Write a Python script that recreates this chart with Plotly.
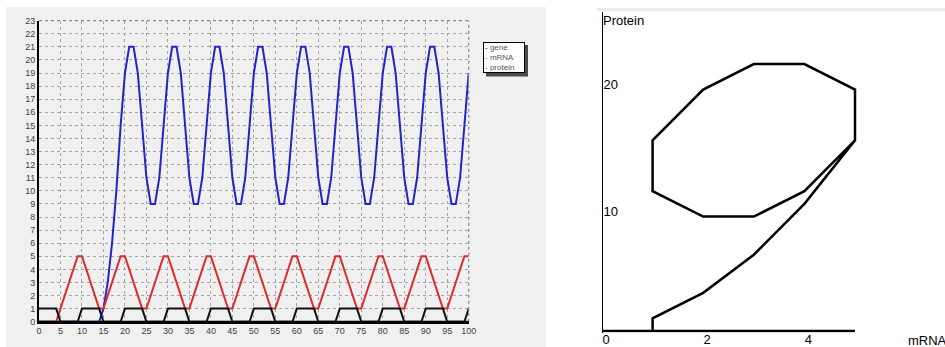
import plotly.graph_objects as go

# ---------------- data ----------------
time = list(range(0, 101))

gene = [
    1, 1, 1, 1, 1, 0, 0, 0, 0, 0,
    1, 1, 1, 1, 1, 0, 0, 0, 0, 0,
    1, 1, 1, 1, 1, 0, 0, 0, 0, 0,
    1, 1, 1, 1, 1, 0, 0, 0, 0, 0,
    1, 1, 1, 1, 1, 0, 0, 0, 0, 0,
    1, 1, 1, 1, 1, 0, 0, 0, 0, 0,
    1, 1, 1, 1, 1, 0, 0, 0, 0, 0,
    1, 1, 1, 1, 1, 0, 0, 0, 0, 0,
    1, 1, 1, 1, 1, 0, 0, 0, 0, 0,
    1, 1, 1, 1, 1, 0, 0, 0, 0, 0,
    1,
]

mrna = [
    0, 0, 0, 0, 0, 1, 2, 3, 4, 5,
    5, 4, 3, 2, 1, 1, 2, 3, 4, 5,
    5, 4, 3, 2, 1, 1, 2, 3, 4, 5,
    5, 4, 3, 2, 1, 1, 2, 3, 4, 5,
    5, 4, 3, 2, 1, 1, 2, 3, 4, 5,
    5, 4, 3, 2, 1, 1, 2, 3, 4, 5,
    5, 4, 3, 2, 1, 1, 2, 3, 4, 5,
    5, 4, 3, 2, 1, 1, 2, 3, 4, 5,
    5, 4, 3, 2, 1, 1, 2, 3, 4, 5,
    5, 4, 3, 2, 1, 1, 2, 3, 4, 5,
    5,
]

protein = [
    0, 0, 0, 0, 0, 0, 0, 0, 0, 0,
    0, 0, 0, 0, 0, 1, 3, 6, 10, 15,
    19, 21, 21, 19, 15, 11, 9, 9, 11, 15,
    19, 21, 21, 19, 15, 11, 9, 9, 11, 15,
    19, 21, 21, 19, 15, 11, 9, 9, 11, 15,
    19, 21, 21, 19, 15, 11, 9, 9, 11, 15,
    19, 21, 21, 19, 15, 11, 9, 9, 11, 15,
    19, 21, 21, 19, 15, 11, 9, 9, 11, 15,
    19, 21, 21, 19, 15, 11, 9, 9, 11, 15,
    19, 21, 21, 19, 15, 11, 9, 9, 11, 15,
    19,
]

x_ticks_left = list(range(0, 101, 5))
y_ticks_left = list(range(0, 24))
x_ticks_right = [0, 2, 4]
y_ticks_right = [10, 20]
series_names = ["gene", "mRNA", "protein"]

# ---------------- styling ----------------
W, H = 945, 347
BLACK = "#111111"
RED = "#dd2a2a"
BLUE = "#2323cc"
PANEL = "#f0f0f0"
FONT = "Liberation Sans, Arial, sans-serif"


def px(x):
    return x / W


def py(y):
    return (H - y) / H


fig = go.Figure()

fig.add_trace(go.Scatter(x=time, y=protein, mode="lines", name=series_names[2],
                         line=dict(color=BLUE, width=2), xaxis="x", yaxis="y"))
fig.add_trace(go.Scatter(x=time, y=mrna, mode="lines", name=series_names[1],
                         line=dict(color=RED, width=2), xaxis="x", yaxis="y"))
fig.add_trace(go.Scatter(x=time, y=gene, mode="lines", name=series_names[0],
                         line=dict(color=BLACK, width=2), xaxis="x", yaxis="y"))

# phase plot
fig.add_trace(go.Scatter(x=mrna, y=protein, mode="lines", name="phase",
                         line=dict(color="black", width=2.5), xaxis="x2", yaxis="y2"))

shapes = [
    # gray panel behind the time-series chart
    dict(type="rect", xref="paper", yref="paper", x0=px(6), x1=px(546), y0=0, y1=py(7),
         fillcolor=PANEL, line=dict(width=0), layer="below"),
    # faint strip on top of the phase panel
    dict(type="line", xref="paper", yref="paper", x0=px(597), x1=1, y0=py(9.5), y1=py(9.5),
         line=dict(color="#ebebeb", width=3), layer="below"),
    # dotted top / right frame of the time-series plot
    dict(type="line", xref="x domain", yref="y domain", x0=0, x1=1, y0=1, y1=1,
         line=dict(color="#888888", width=1.2, dash="dot")),
    dict(type="line", xref="x domain", yref="y domain", x0=1, x1=1, y0=0, y1=1,
         line=dict(color="#888888", width=1.2, dash="dot")),
    # solid baseline of the time-series plot (drawn over the traces)
    dict(type="line", xref="x domain", yref="y domain", x0=0, x1=1, y0=0, y1=0,
         line=dict(color="black", width=2)),
    # legend shadow
    dict(type="rect", xref="paper", yref="paper", x0=px(486), x1=px(528), y0=py(76.5), y1=py(45),
         fillcolor="#4a4a4a", line=dict(width=0)),
]

legend_text = (
    f"<span style='color:{BLACK}'>-</span> {series_names[0]}<br>"
    f"<span style='color:{RED}'>-</span> {series_names[1]}<br>"
    f"<span style='color:{BLUE}'>-</span> {series_names[2]}"
)

annotations = [
    dict(xref="paper", yref="paper", x=px(483), y=py(42), xanchor="left", yanchor="top",
         text=legend_text, showarrow=False, align="left", width=38, height=27,
         bgcolor="white", bordercolor="black", borderwidth=1, borderpad=1,
         font=dict(family=FONT, size=8, color="#555555")),
    dict(xref="paper", yref="paper", x=px(601), y=py(21), xanchor="left", yanchor="middle",
         text="Protein", showarrow=False, font=dict(family=FONT, size=13, color="black")),
    dict(xref="paper", yref="paper", x=px(906), y=py(340), xanchor="left", yanchor="middle",
         text="mRNA", showarrow=False, font=dict(family=FONT, size=13, color="black")),
]

fig.update_layout(
    width=W, height=H,
    margin=dict(l=0, r=0, t=0, b=0, autoexpand=False),
    paper_bgcolor="white",
    plot_bgcolor="rgba(0,0,0,0)",
    showlegend=False,
    font=dict(family=FONT),
    shapes=shapes,
    annotations=annotations,
    xaxis=dict(
        domain=[px(39), px(468.7)], range=[0, 100], anchor="y", automargin=False,
        tickvals=x_ticks_left, ticks="", showgrid=True, gridcolor="#a4a4a4",
        griddash="dot", gridwidth=1, showline=True, linecolor="black", linewidth=1.5,
        zeroline=False, tickfont=dict(size=9, color="#404040", family=FONT),
    ),
    yaxis=dict(
        domain=[py(321.7), py(20.7)], range=[0, 23], anchor="x", automargin=False,
        tickvals=y_ticks_left, ticks="", showgrid=True, gridcolor="#a4a4a4",
        griddash="dot", gridwidth=1, showline=True, linecolor="black", linewidth=2,
        zeroline=False, tickfont=dict(size=9, color="#404040", family=FONT),
    ),
    xaxis2=dict(
        domain=[px(602), 1.0], range=[0, 343 / 50.6], anchor="y2", automargin=False,
        tickvals=x_ticks_right, ticks="", showgrid=False, showline=False, zeroline=False,
        ticklabeloverflow="allow", ticklabelshift=4, ticklabelstandoff=-3,
        tickfont=dict(size=13, color="black", family=FONT),
    ),
    yaxis2=dict(
        domain=[py(332.5), py(12)], range=[-0.12, 25.1], anchor="free", position=px(602),
        side="right", automargin=False,
        tickvals=y_ticks_right, ticks="", showgrid=False, showline=True,
        linecolor="black", linewidth=1, zeroline=False, ticklabelstandoff=-2,
        ticklabelshift=8, tickfont=dict(size=13, color="black", family=FONT),
    ),
)

fig.write_html(
    "out.html",
    config={"displayModeBar": False},
    post_script="document.body.style.margin='0';document.body.style.overflow='hidden';",
)
